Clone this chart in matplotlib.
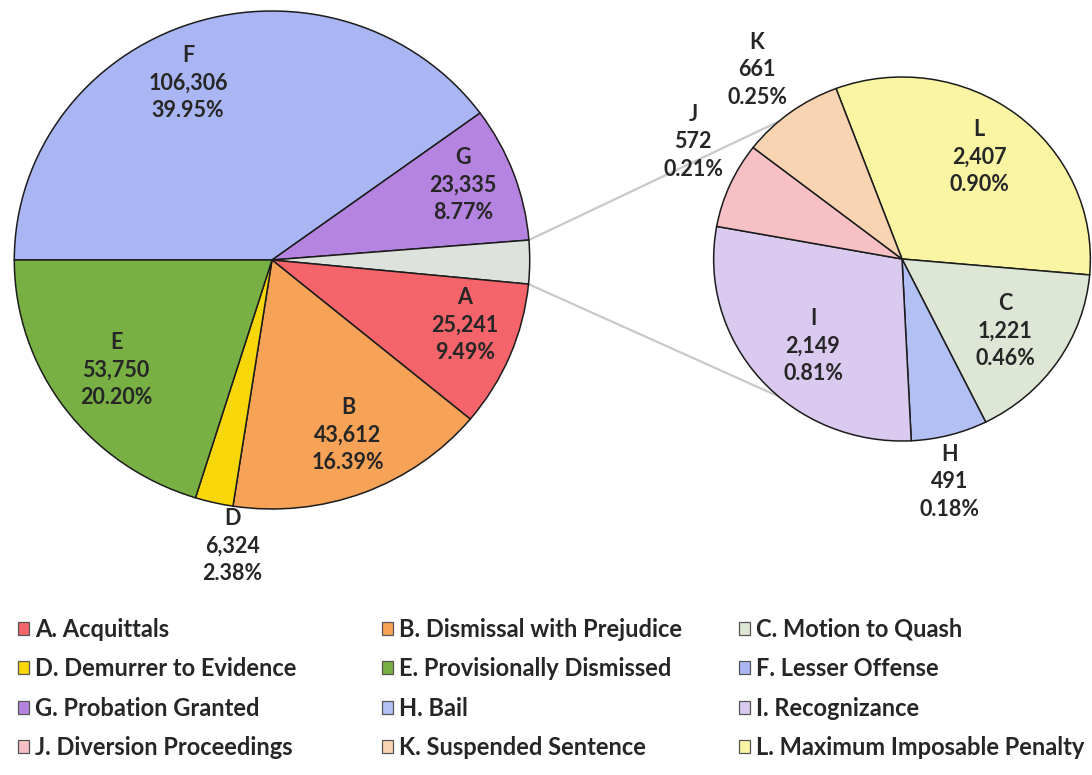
import matplotlib
matplotlib.use("Agg")
import matplotlib.pyplot as plt
from matplotlib.patches import Patch
import numpy as np

# --- data -------------------------------------------------------------
codes = ["A", "B", "C", "D", "E", "F", "G", "H", "I", "J", "K", "L"]
names = ["Acquittals", "Dismissal with Prejudice", "Motion to Quash",
         "Demurrer to Evidence", "Provisionally Dismissed", "Lesser Offense",
         "Probation Granted", "Bail", "Recognizance",
         "Diversion Proceedings", "Suspended Sentence",
         "Maximum Imposable Penalty"]
counts = [25241, 43612, 1221, 6324, 53750, 106306, 23335, 491, 2149, 572,
          661, 2407]
main_order = ["F", "G", "other", "A", "B", "D", "E"]   # clockwise from 9 o'clock
second_order = ["L", "C", "H", "I", "J", "K"]         # clockwise, split pie

colors = {
    "A": "#f4646a", "B": "#f6a257", "C": "#dee6d6", "D": "#f7d70a",
    "E": "#79b043", "F": "#aab6f4", "G": "#b584e0", "H": "#b3c0f4",
    "I": "#dacaf0", "J": "#f6c0c4", "K": "#f9d4b2", "L": "#faf5a3",
    "other": "#dde2dc",
}

val = dict(zip(codes, counts))
total = sum(counts)
val["other"] = sum(val[c] for c in second_order)

# --- geometry (image pixels; source image is a bit wider than tall) ----
W, H = 1092, 775
SX = 1.035


def xy(px, py):
    return px / SX, H - py


fig = plt.figure(figsize=(W / 100, H / 100), dpi=100)
ax = fig.add_axes([0, 0, 1, 1])

font = "Lato"
tcol = "#262626"
edge = dict(edgecolor="#1c1c1c", linewidth=1.1)

main_c, main_r = xy(272, 260), 249
sec_c, sec_r = xy(902, 259), 182
start2 = 110.5

ax.pie([val[c] for c in main_order], colors=[colors[c] for c in main_order],
       startangle=180, counterclock=False, center=main_c, radius=main_r,
       wedgeprops=edge)
ax.pie([val[c] for c in second_order], colors=[colors[c] for c in second_order],
       startangle=start2, counterclock=False, center=sec_c, radius=sec_r,
       wedgeprops=edge)

# connector lines from the "other" wedge to the secondary pie
a1 = 180 - (val["F"] + val["G"]) / total * 360
a2 = a1 - val["other"] / total * 360
for a_main, a_sec in [(a1, 131), (a2, -131)]:
    p0 = (main_c[0] + main_r * np.cos(np.radians(a_main)),
          main_c[1] + main_r * np.sin(np.radians(a_main)))
    p1 = (sec_c[0] + sec_r * np.cos(np.radians(a_sec)),
          sec_c[1] + sec_r * np.sin(np.radians(a_sec)))
    ax.plot([p0[0], p1[0]], [p0[1], p1[1]], color="#c9c9c9", lw=1.6,
            zorder=0)

# --- data labels ------------------------------------------------------
label_pos = {
    "F": (188, 83), "G": (463, 185), "A": (465, 325), "B": (348, 435),
    "D": (232, 546), "E": (116, 370), "K": (757, 70), "J": (693, 142),
    "L": (979, 157), "C": (1005, 331), "I": (813, 346), "H": (950, 482),
}
for c, (px, py) in label_pos.items():
    x, y = xy(px, py)
    ax.text(x, y, f"{c}\n{val[c]:,}\n{val[c] / total * 100:.2f}%",
            ha="center", va="center", fontsize=15.5, family=font,
            fontweight="bold", color=tcol, linespacing=1.38)

ax.set_xlim(0, W / SX)
ax.set_ylim(0, H)
ax.set_aspect("auto")
ax.axis("off")

# --- legend: three columns, row-major order ---------------------------
col_x = [18, 382, 739]
for j in range(3):
    idx = [j + 3 * r for r in range(4)]
    handles = [Patch(facecolor=colors[codes[i]], edgecolor="#555555",
                     linewidth=0.9) for i in idx]
    labels = [f"{codes[i]}. {names[i]}" for i in idx]
    leg = fig.legend(handles, labels, loc="upper left",
                     bbox_to_anchor=(col_x[j] / W, 1 - 618 / H),
                     frameon=False, ncol=1, handlelength=0.48,
                     handleheight=0.48, handletextpad=0.25, labelspacing=0.69,
                     borderaxespad=0, borderpad=0,
                     prop=dict(family=font, size=17, weight="bold"))
    for t in leg.get_texts():
        t.set_color(tcol)

fig.savefig("out.png", dpi=100)
